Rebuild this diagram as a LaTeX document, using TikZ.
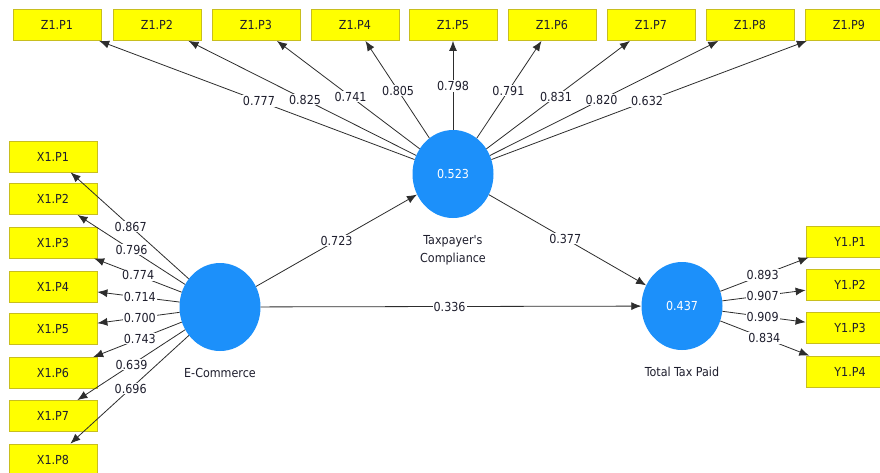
\documentclass[tikz,border=0pt]{standalone}
\usepackage{fontspec}
\IfFontExistsTF{DejaVu Sans Condensed}{%
  \setmainfont{DejaVu Sans Condensed}\def\myfs{\fontsize{12.4}{18}\selectfont}}{%
  \setmainfont{DejaVu Sans}\def\myfs{\fontsize{11.2}{18}\selectfont}}
\usetikzlibrary{arrows.meta,shapes.geometric}
\definecolor{boxyellow}{RGB}{255,255,0}
\definecolor{boxedge}{RGB}{200,190,30}
\definecolor{lvblue}{RGB}{28,144,250}
\definecolor{linegray}{RGB}{45,45,45}
\definecolor{txt}{RGB}{30,30,45}
\begin{document}
\begin{tikzpicture}[x=1pt,y=-1pt,
  ind/.style={rectangle,draw=boxedge,fill=boxyellow,line width=0.8pt,minimum width=88pt,minimum height=31pt,inner sep=0pt,font=\myfs,text=txt},
  lv/.style={ellipse,fill=lvblue,minimum width=81pt,minimum height=88pt,inner sep=0pt,text=white,font=\myfs},
  arr/.style={draw=linegray,line width=0.8pt,-{Latex[length=10pt,width=8pt]}},
  lbl/.style={fill=white,inner sep=1pt,font=\myfs,text=txt},
  lvcap/.style={font=\myfs,text=txt,align=center}]
\useasboundingbox (0,0) rectangle (880,472);
\clip (0,0) rectangle (880,472);
\fill[white] (0,0) rectangle (880,472);

% latent variables
\node[lv] (E) at (220,307) {};
\node[lv] (T) at (453,174) {0.523};
\node[lv] (P) at (682,306) {0.437};
\node[lvcap] (Ecap) at (220,373) {E-Commerce};
\node[lvcap] (Tcap) at (453,250) {Taxpayer\textquotesingle s\\Compliance};
\node[lvcap] (Pcap) at (682,372) {Total Tax Paid};

% Z indicators
\node[ind] (z1) at (57,25) {Z1.P1};
\node[ind] (z2) at (157,25) {Z1.P2};
\node[ind] (z3) at (256,25) {Z1.P3};
\node[ind] (z4) at (355,25) {Z1.P4};
\node[ind] (z5) at (453,25) {Z1.P5};
\node[ind] (z6) at (552,25) {Z1.P6};
\node[ind] (z7) at (651,25) {Z1.P7};
\node[ind] (z8) at (750,25) {Z1.P8};
\node[ind] (z9) at (849,25) {Z1.P9};

% X indicators
\node[ind] (x1) at (53,156.5) {X1.P1};
\node[ind] (x2) at (53,199) {X1.P2};
\node[ind] (x3) at (53,242.5) {X1.P3};
\node[ind] (x4) at (53,286.5) {X1.P4};
\node[ind] (x5) at (53,329) {X1.P5};
\node[ind] (x6) at (53,373) {X1.P6};
\node[ind] (x7) at (53,416) {X1.P7};
\node[ind] (x8) at (53,459.5) {X1.P8};

% Y indicators
\node[ind] (y1) at (850,241.5) {Y1.P1};
\node[ind] (y2) at (850,284.5) {Y1.P2};
\node[ind] (y3) at (850,328) {Y1.P3};
\node[ind] (y4) at (850,371.5) {Y1.P4};

% structural paths
\draw[arr] (E) -- (T);
\draw[arr] (E) -- (P);
\draw[arr] (T) -- (P);
\path (E.center) -- node[lbl,pos=0.5]{0.723} (T.center);
\path (E.center) -- node[lbl,pos=0.497]{0.336} (P.center);
\path (T.center) -- node[lbl,pos=0.49]{0.377} (P.center);

% Taxpayer's Compliance loadings
\foreach \n/\v/\p in {z1/0.777/0.49, z2/0.825/0.50, z3/0.741/0.52, z4/0.805/0.56, z5/0.798/0.59, z6/0.791/0.56, z7/0.831/0.52, z8/0.820/0.50, z9/0.632/0.49}{
  \draw[arr] (T) -- (\n);
  \path (T.center) -- node[lbl,pos=\p]{\v} (\n.center);
}

% E-Commerce loadings
\foreach \n/\v/\p in {x1/0.867/0.535, x2/0.796/0.53, x3/0.774/0.49, x4/0.714/0.48, x5/0.700/0.48, x6/0.743/0.48, x7/0.639/0.53, x8/0.696/0.535}{
  \draw[arr] (E) -- (\n);
  \path (E.center) -- node[lbl,pos=\p]{\v} (\n.center);
}

% Total Tax Paid loadings
\foreach \n/\v/\p in {y1/0.893/0.48, y2/0.907/0.48, y3/0.909/0.48, y4/0.834/0.49}{
  \draw[arr] (P) -- (\n);
  \path (P.center) -- node[lbl,pos=\p]{\v} (\n.center);
}
\end{tikzpicture}
\end{document}
